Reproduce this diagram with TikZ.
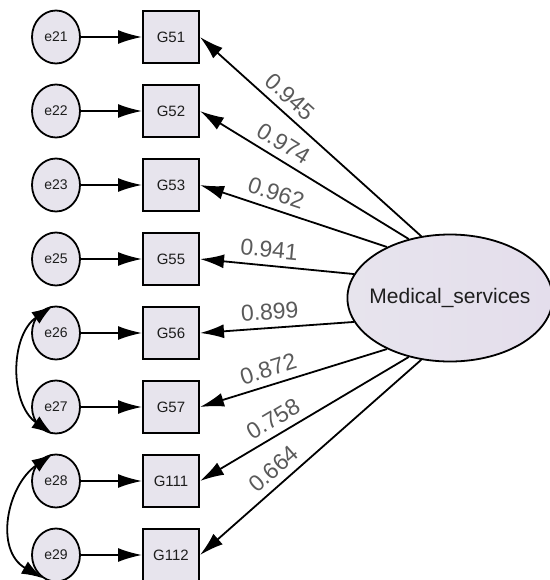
\documentclass[tikz,border=0pt]{standalone}
\usepackage{fontspec}
\setmainfont{Liberation Sans}
\usetikzlibrary{arrows.meta}
\usetikzlibrary{shapes.geometric}
\definecolor{lav}{RGB}{231,228,237}
\definecolor{lavdark}{RGB}{228,222,236}
\definecolor{ink}{RGB}{30,30,30}
\definecolor{coefgray}{RGB}{90,90,90}

\begin{document}
\begin{tikzpicture}[x=0.5pt, y=0.5pt,
    err/.style={ellipse, draw, line width=0.9pt, fill=lav, text=ink, inner sep=0pt,
      minimum width=24pt, minimum height=26.5pt, font=\fontsize{7}{8}\selectfont},
    obs/.style={rectangle, draw, line width=1pt, fill=lav, text=ink, inner sep=0pt,
      minimum width=28pt, minimum height=26pt, font=\fontsize{7.5}{9}\selectfont},
    lat/.style={ellipse, draw, line width=0.9pt, left color=lav, right color=lavdark, text=ink,
      inner xsep=-4pt, inner ysep=0pt, minimum width=102pt, minimum height=63.5pt,
      font=\fontsize{10.5}{12}\selectfont},
    load/.style={-{Latex[length=12pt, width=7pt]}, line width=0.9pt},
    cov/.style={{Latex[length=10.5pt, width=7pt]}-{Latex[length=10.5pt, width=7pt]}, line width=0.9pt},
    coef/.style={sloped, above=2.5pt, inner sep=1pt, text=coefgray, font=\fontsize{11.5}{13}\selectfont}]
  \useasboundingbox (0,0) rectangle (550,-580);

  % error terms
  \node[err] (e21) at (56,-37) {e21};
  \node[err] (e22) at (56,-111) {e22};
  \node[err] (e23) at (56,-185) {e23};
  \node[err] (e25) at (56,-259) {e25};
  \node[err] (e26) at (56,-333) {e26};
  \node[err] (e27) at (56,-407) {e27};
  \node[err] (e28) at (56,-481) {e28};
  \node[err] (e29) at (56,-555) {e29};

  % observed items
  \node[obs] (G51) at (171,-37) {G51};
  \node[obs] (G52) at (171,-111) {G52};
  \node[obs] (G53) at (171,-185) {G53};
  \node[obs] (G55) at (171,-259) {G55};
  \node[obs] (G56) at (171,-333) {G56};
  \node[obs] (G57) at (171,-407) {G57};
  \node[obs] (G111) at (171,-481) {G111};
  \node[obs] (G112) at (171,-555) {G112};

  % latent factor
  \node[lat] (ms) at (450,-298) {Medical\_services};

  \draw[load] (e21) -- (G51);
  \draw[load] (e22) -- (G52);
  \draw[load] (e23) -- (G53);
  \draw[load] (e25) -- (G55);
  \draw[load] (e26) -- (G56);
  \draw[load] (e27) -- (G57);
  \draw[load] (e28) -- (G111);
  \draw[load] (e29) -- (G112);

  % loadings
  \draw[load] (ms.115) -- (G51.east) node[coef, pos=0.64] {0.945};
  \draw[load] (ms.125) -- (G52.east) node[coef, pos=0.64] {0.974};
  \draw[load] (ms.141) -- (G53.east) node[coef, pos=0.62] {0.962};
  \draw[load] (ms.166) -- (G55.east) node[coef, pos=0.56] {0.941};
  \draw[load] (ms.194) -- (G56.east) node[coef, pos=0.54] {0.899};
  \draw[load] (ms.219) -- (G57.east) node[coef, pos=0.61] {0.872};
  \draw[load] (ms.235) -- (G111.east) node[coef, pos=0.61] {0.758};
  \draw[load] (ms.245) -- (G112.east) node[coef, pos=0.62] {0.664};

  % covariances
  \draw[cov] (e26.97) to[out=215, in=145, looseness=1.05] (e27.263);
  \draw[cov] (e28.97) to[out=215, in=150, looseness=1.15] (e29.240);
\end{tikzpicture}
\end{document}
